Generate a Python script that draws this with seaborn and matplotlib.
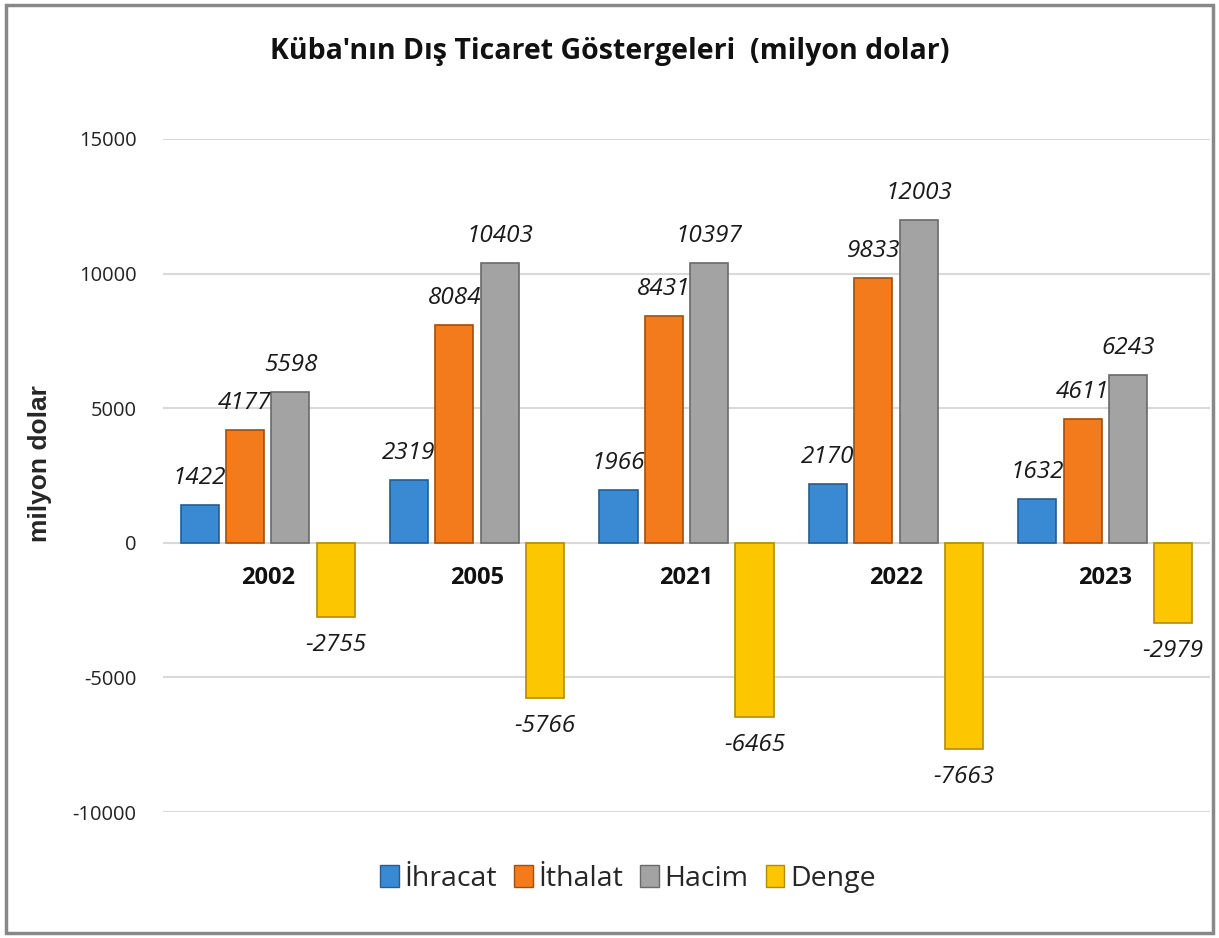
import matplotlib
matplotlib.use("Agg")
import matplotlib.pyplot as plt
import seaborn as sns
import pandas as pd
from matplotlib.patches import Rectangle, Patch

years = ["2002", "2005", "2021", "2022", "2023"]
series = ["İhracat", "İthalat", "Hacim", "Denge"]
ihracat = [1422, 2319, 1966, 2170, 1632]
ithalat = [4177, 8084, 8431, 9833, 4611]
hacim = [5598, 10403, 10397, 12003, 6243]
denge = [-2755, -5766, -6465, -7663, -2979]
yticks = [-10000, -5000, 0, 5000, 10000, 15000]

colors = ["#3a8ad3", "#f47b1c", "#a3a3a3", "#fcc600"]
edges = ["#245d92", "#a24e0c", "#6a6a6a", "#b48c00"]

rows = []
for s, vals in zip(series, [ihracat, ithalat, hacim, denge]):
    for y, v in zip(years, vals):
        rows.append({"Yıl": y, "Seri": s, "Değer": v})
df = pd.DataFrame(rows)

sns.set_theme(style="white")
plt.rcParams["font.family"] = ["Open Sans", "DejaVu Sans"]

fig = plt.figure(figsize=(12.19, 9.38), dpi=100)
ax = fig.add_axes([163 / 1219, 1 - 812 / 938, (1210 - 163) / 1219, (812 - 139) / 938])

sns.barplot(data=df, x="Yıl", y="Değer", hue="Seri", order=years, hue_order=series,
            palette=colors, width=0.866, gap=0.16, ax=ax, legend=False,
            saturation=1, zorder=3)

for i, patch in enumerate(ax.patches):
    si = i // len(years)
    patch.set_edgecolor(edges[si])
    patch.set_linewidth(1.2)

for cont in ax.containers:
    for bar in cont:
        h = bar.get_height()
        xc = bar.get_x() + bar.get_width() / 2
        off = 1000 if h >= 0 else -1050
        ax.text(xc, h + off, f"{int(round(h))}", ha="center", va="center",
                fontsize=17.5, fontstyle="italic", color="#1a1a1a")

ax.set_ylim(-10000, 15000)
ax.set_xlim(-0.5, len(years) - 0.5)
ax.set_yticks(yticks)
ax.set_yticklabels([str(t) for t in yticks], fontsize=14.5, color="#222222")
ax.set_xticks([])
ax.set_xlabel("")
ax.set_ylabel("milyon dolar", fontsize=19, fontweight="bold",
              family=["Liberation Sans", "DejaVu Sans"])
ax.yaxis.set_label_coords(-0.106, 0.517)
ax.tick_params(axis="y", length=0, pad=19)
ax.grid(axis="y", color="#d9d9d9", linewidth=1.5, zorder=0)
ax.set_axisbelow(True)
for sp in ax.spines.values():
    sp.set_visible(False)

for i, y in enumerate(years):
    ax.text(i, -1300, y, ha="center", va="center", fontsize=17, fontweight="bold",
            color="#111111")

fig.text(0.5, 1 - 51 / 938, "Küba'nın Dış Ticaret Göstergeleri  (milyon dolar)",
         ha="center", va="center", fontsize=20.5, fontweight="bold", color="#111111")

handles = [Patch(facecolor=c, edgecolor=e, label=s) for c, e, s in zip(colors, edges, series)]
fig.legend(handles=handles, loc="center", bbox_to_anchor=(0.515, 1 - 879 / 938), ncol=4,
           frameon=False, fontsize=20.5, handlelength=0.65, handleheight=0.8,
           handletextpad=0.2, columnspacing=0.6)

fig.patches.append(Rectangle((6 / 1219, 5 / 938), 1207 / 1219, 928 / 938,
                             transform=fig.transFigure, fill=False,
                             edgecolor="#888888", linewidth=2.5))

fig.savefig("out.png", dpi=100)
